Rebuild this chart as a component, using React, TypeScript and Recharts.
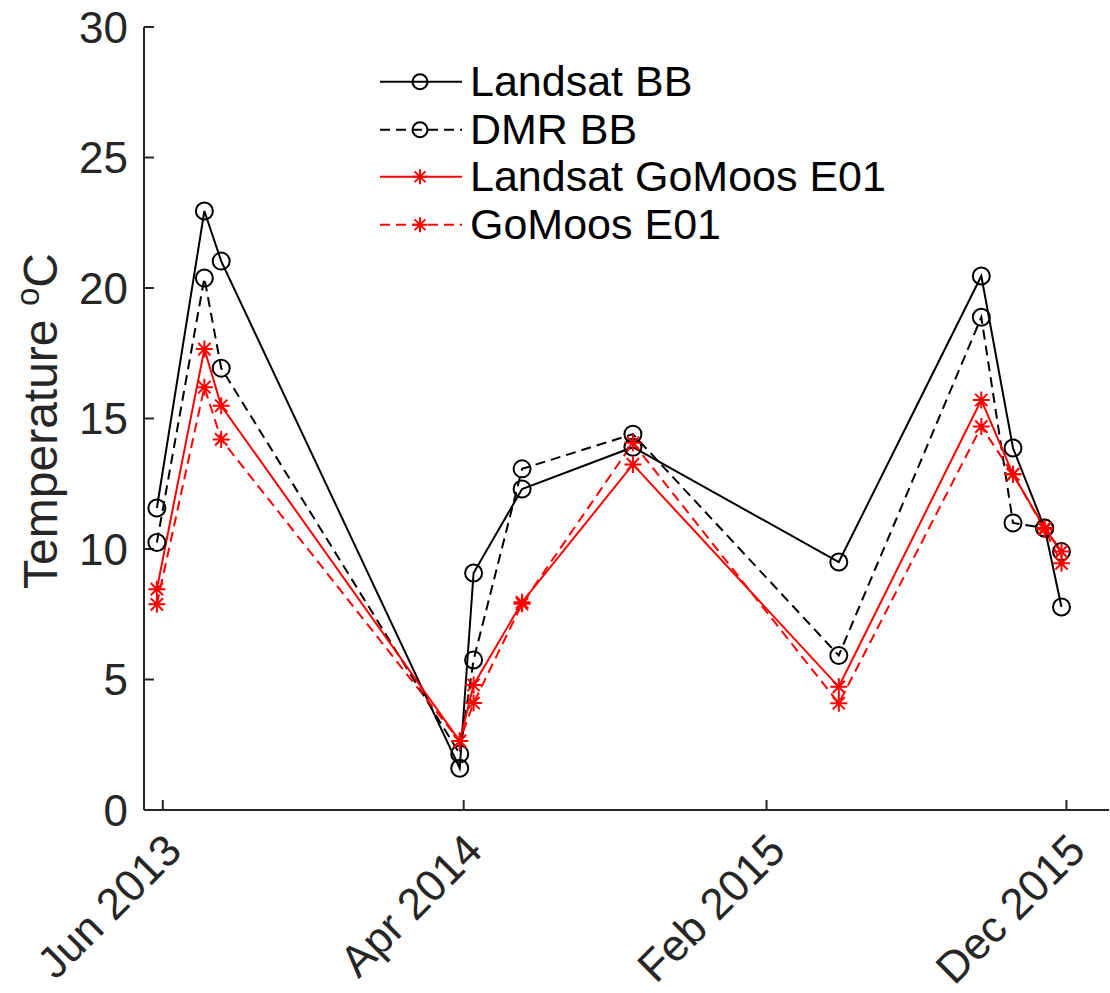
import React from 'react';
import { LineChart, Line, XAxis, YAxis, Legend } from 'recharts';

// sampling dates (all four records share the same overpass dates)
const sampleDates = [
  '2013-05-26', '2013-07-13', '2013-07-30', '2014-03-28', '2014-04-11', '2014-05-30',
  '2014-09-19', '2015-04-15', '2015-09-06', '2015-10-08', '2015-11-09', '2015-11-26',
];

const landsatBB = [11.57, 22.95, 21.03, 1.6, 9.08, 12.3, 13.9, 9.5, 20.46, 13.87, 10.8, 7.78];
const dmrBB = [10.25, 20.38, 16.93, 2.15, 5.75, 13.07, 14.4, 5.92, 18.88, 11.0, 10.8, 9.9];
const landsatGoMoos = [8.46, 17.66, 15.49, 2.64, 4.79, 7.96, 13.24, 4.72, 15.71, 12.86, 10.8, 9.9];
const goMoos = [7.88, 16.2, 14.2, 2.64, 4.1, 7.9, 14.07, 4.09, 14.69, 12.86, 10.75, 9.45];

const xTickDates = ['2013-06-01', '2014-04-01', '2015-02-01', '2015-12-01'];
const xDomainDates = ['2013-05-13', '2016-01-13'];
const yTicks = [0, 5, 10, 15, 20, 25, 30];

const MONTHS = ['Jan', 'Feb', 'Mar', 'Apr', 'May', 'Jun', 'Jul', 'Aug', 'Sep', 'Oct', 'Nov', 'Dec'];
const AXIS = '#262626';
const FONT = '"Liberation Sans", Arial, Helvetica, sans-serif';

const toTime = (s: string) => {
  const [y, m, d] = s.split('-').map(Number);
  return Date.UTC(y, m - 1, d);
};
const fmtMonth = (t: number) => {
  const d = new Date(t);
  return `${MONTHS[d.getUTCMonth()]} ${d.getUTCFullYear()}`;
};

const data = sampleDates.map((d, i) => ({
  t: toTime(d),
  landsatBB: landsatBB[i],
  dmrBB: dmrBB[i],
  landsatGoMoos: landsatGoMoos[i],
  goMoos: goMoos[i],
}));

const xTicks = xTickDates.map(toTime);
const xDomain = xDomainDates.map(toTime);

const series = [
  { key: 'landsatBB', name: 'Landsat BB', color: '#000000', dash: undefined, marker: 'circle' },
  { key: 'dmrBB', name: 'DMR BB', color: '#000000', dash: '10 6', marker: 'circle' },
  { key: 'landsatGoMoos', name: 'Landsat GoMoos E01', color: '#ff0000', dash: undefined, marker: 'star' },
  { key: 'goMoos', name: 'GoMoos E01', color: '#ff0000', dash: '10 6', marker: 'star' },
];

function Marker({ cx, cy, kind, color, size }: any) {
  if (cx == null || cy == null) return null;
  if (kind === 'circle') {
    return <circle cx={cx} cy={cy} r={size} fill="none" stroke={color} strokeWidth={2} />;
  }
  const d = size * 0.72;
  const path =
    `M${cx},${cy - size}V${cy + size}M${cx - size},${cy}H${cx + size}` +
    `M${cx - d},${cy - d}L${cx + d},${cy + d}M${cx - d},${cy + d}L${cx + d},${cy - d}`;
  return <path d={path} stroke={color} strokeWidth={2} fill="none" />;
}

function XTick({ x, y, payload }: any) {
  const ax = x + 21;
  const ay = y + 43;
  return (
    <text
      x={ax}
      y={ay}
      transform={`rotate(-45, ${ax}, ${ay})`}
      textAnchor="end"
      fontSize={44}
      fontFamily={FONT}
      fill={AXIS}
    >
      {fmtMonth(payload.value)}
    </text>
  );
}

function YLabel() {
  return (
    <text
      x={57}
      y={421}
      transform="rotate(-90, 57, 421)"
      textAnchor="middle"
      fontSize={48}
      fontFamily={FONT}
      fill={AXIS}
    >
      Temperature{' '}
      <tspan fontSize={33} dy={-18}>o</tspan>
      <tspan dy={18}>C</tspan>
    </text>
  );
}

function LegendBox() {
  return (
    <div style={{ fontFamily: FONT, fontSize: 43, color: '#000' }}>
      {series.map((s) => (
        <div key={s.key} style={{ display: 'flex', alignItems: 'center', height: 47.5 }}>
          <svg width={84} height={47.5} style={{ display: 'block' }}>
            <line x1={2} x2={84} y1={23.75} y2={23.75} stroke={s.color} strokeWidth={2} strokeDasharray={s.dash} />
            <Marker cx={42} cy={23.75} kind={s.marker} color={s.color} size={7.5} />
          </svg>
          <span style={{ marginLeft: 8, lineHeight: '47.5px', whiteSpace: 'nowrap' }}>{s.name}</span>
        </div>
      ))}
    </div>
  );
}

export default function App() {
  return (
    <div style={{ position: 'absolute', left: 0, top: 0, background: '#fff' }}>
      <LineChart width={1110} height={993} data={data} margin={{ top: 27, right: 1, left: 44, bottom: 0 }}>
        <XAxis
          dataKey="t"
          type="number"
          domain={xDomain}
          ticks={xTicks}
          allowDataOverflow
          height={183}
          tickSize={-10}
          tickMargin={10}
          tick={<XTick />}
          axisLine={{ stroke: AXIS, strokeWidth: 2 }}
          tickLine={{ stroke: AXIS, strokeWidth: 2 }}
          interval={0}
        />
        <XAxis
          xAxisId="top"
          orientation="top"
          dataKey="t"
          type="number"
          domain={xDomain}
          ticks={xTicks}
          allowDataOverflow
          height={0}
          tickSize={-10}
          tick={false}
          axisLine={{ stroke: AXIS, strokeWidth: 2 }}
          tickLine={{ stroke: AXIS, strokeWidth: 2 }}
          interval={0}
        />
        <YAxis
          type="number"
          domain={[0, 30]}
          ticks={yTicks}
          allowDataOverflow
          width={100}
          tickSize={-10}
          tickMargin={26}
          tick={{ fill: AXIS, fontSize: 44, fontFamily: FONT }}
          axisLine={{ stroke: AXIS, strokeWidth: 2 }}
          tickLine={{ stroke: AXIS, strokeWidth: 2 }}
          interval={0}
          label={{ content: () => <YLabel /> }}
        />
        <YAxis
          yAxisId="right"
          orientation="right"
          type="number"
          domain={[0, 30]}
          ticks={yTicks}
          allowDataOverflow
          width={0}
          tickSize={-10}
          tick={false}
          axisLine={{ stroke: AXIS, strokeWidth: 2 }}
          tickLine={{ stroke: AXIS, strokeWidth: 2 }}
          interval={0}
        />
        {series.map((s) => (
          <Line
            key={s.key}
            dataKey={s.key}
            name={s.name}
            type="linear"
            stroke={s.color}
            strokeWidth={2}
            strokeDasharray={s.dash}
            isAnimationActive={false}
            activeDot={false}
            dot={(p: any) => (
              <Marker key={`${s.key}-${p.index}`} cx={p.cx} cy={p.cy} kind={s.marker} color={s.color} size={8.5} />
            )}
          />
        ))}
        <Legend
          layout="vertical"
          align="center"
          verticalAlign="middle"
          content={() => <LegendBox />}
          wrapperStyle={{ left: 378, top: 58, width: 'auto', height: 'auto' }}
        />
      </LineChart>
    </div>
  );
}
